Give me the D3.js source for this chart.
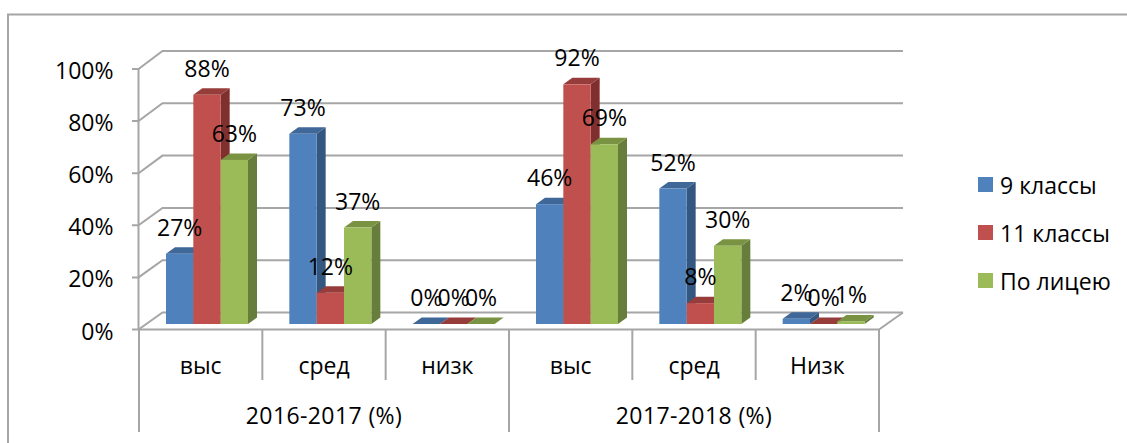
<!DOCTYPE html>
<html><head><meta charset="utf-8">
<script src="https://cdnjs.cloudflare.com/ajax/libs/d3/7.8.5/d3.min.js"></script>
<style>html,body{margin:0;padding:0;background:#fff}svg{display:block}text{font-family:"Open Sans","Noto Sans",sans-serif;fill:#000}</style>
</head><body><svg id="c" width="1127" height="443"></svg>
<script>
const categories=["выс","сред","низк","выс","сред","Низк"];
const groups=["2016-2017 (%)","2017-2018 (%)"];
const seriesNames=["9 классы","11 классы","По лицею"];
const s9=[27,73,0,46,52,2];
const s11=[88,12,0,92,8,0];
const sAll=[63,37,0,69,30,1];
const yTicks=[0,20,40,60,80,100];
const faceColors=["#4f81bd","#c0504d","#9bbb59"];
const topColors=["#3f6797","#963c3a","#7a9343"];
const sideColors=["#34577f","#7f2f2d","#677d3b"];
const series=[s9,s11,sAll];

const svg=d3.select("#c");
const gray="#a6a6a6";
const x0=d3.scaleBand().domain(d3.range(categories.length)).range([139,879]).paddingInner(0).paddingOuter(0);
const x1=d3.scaleBand().domain(d3.range(3)).range([27,109]);
const yFront=d3.scaleLinear().domain([0,100]).range([329.5,69]);
const yBack=d3.scaleLinear().domain([0,100]).range([312.5,51]);
const yBar=d3.scaleLinear().domain([0,100]).range([324,63.5]);
const wallDx=24, barDx=9, barDy=6.5;
const pts=a=>a.map(p=>p.join(",")).join(" ");

// frame
svg.append("path").attr("d","M8,443V14.5H1127").attr("fill","none").attr("stroke",gray).attr("stroke-width",2);

// gridlines on the walls
const gl=svg.append("g").attr("fill","none").attr("stroke",gray).attr("stroke-width",2);
yTicks.forEach(t=>{
  gl.append("path").attr("d",`M132,${yFront(t)}H138.5L${138.5+wallDx},${yBack(t)}H903`);
});
gl.append("path").attr("d",`M138.5,${yFront(100)}V${yFront(0)}`);
gl.append("path").attr("d",`M${x0(0)},${yFront(0)}H879L903,${yBack(0)}`);

// category axis dividers
const ax=svg.append("g").attr("stroke",gray).attr("stroke-width",2);
d3.range(categories.length+1).forEach(i=>{
  const x=i<categories.length?x0(i):x0.range()[1];
  const long=i%3===0;
  ax.append("line").attr("x1",x).attr("x2",x).attr("y1",yFront(0)).attr("y2",long?432:380);
});

// bars
const bars=svg.append("g");
series.forEach((vals,si)=>{
  vals.forEach((v,ci)=>{
    const xl=x0(ci)+x1(si), xr=xl+x1.bandwidth(), yt=yBar(v), yb=yBar(0);
    bars.append("polygon").attr("points",pts([[xr,yt],[xr+barDx,yt-barDy],[xr+barDx,yb-barDy],[xr,yb]])).attr("fill",sideColors[si]);
    bars.append("polygon").attr("points",pts([[xl,yt],[xl+barDx,yt-barDy],[xr+barDx,yt-barDy],[xr,yt]])).attr("fill",topColors[si]);
    bars.append("rect").attr("x",xl).attr("y",yt).attr("width",x1.bandwidth()).attr("height",yb-yt).attr("fill",faceColors[si]);
  });
});

const fs=23;
// data labels
series.forEach((vals,si)=>{
  vals.forEach((v,ci)=>{
    svg.append("text").attr("x",x0(ci)+x1(si)+x1.bandwidth()/2).attr("y",yBar(v)-27)
      .attr("text-anchor","middle").attr("dominant-baseline","central").attr("font-size",fs).text(v+"%");
  });
});
// y tick labels
yTicks.forEach(t=>{
  svg.append("text").attr("x",113.5).attr("y",yFront(t)+1).attr("text-anchor","end").attr("dominant-baseline","central").attr("font-size",fs).text(t+"%");
});
// category labels
categories.forEach((c,i)=>{
  svg.append("text").attr("x",x0(i)+x0.bandwidth()/2).attr("y",365).attr("text-anchor","middle").attr("dominant-baseline","central").attr("font-size",fs).text(c);
});
groups.forEach((g,i)=>{
  svg.append("text").attr("x",x0(i*3)+x0.bandwidth()*1.5).attr("y",415).attr("text-anchor","middle").attr("dominant-baseline","central").attr("font-size",fs).attr("letter-spacing",0.4).text(g);
});
// legend
const legendY=d3.scalePoint().domain(seriesNames).range([184.5,280.5]);
seriesNames.forEach((n,i)=>{
  svg.append("rect").attr("x",978).attr("y",legendY(n)-7.5).attr("width",15).attr("height",15).attr("fill",faceColors[i]);
  svg.append("text").attr("x",1000).attr("y",legendY(n)).attr("dominant-baseline","central").attr("font-size",fs).text(n);
});
</script></body></html>
